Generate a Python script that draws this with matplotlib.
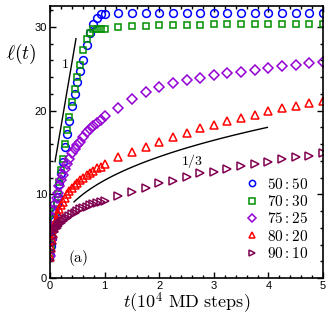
import matplotlib
matplotlib.use("Agg")
import matplotlib.pyplot as plt
import numpy as np

plt.rcParams['mathtext.fontset'] = 'cm'
plt.rcParams['font.family'] = ['Liberation Sans', 'DejaVu Sans']

# ---- data ----
t_early = [0.0, 0.02, 0.04, 0.06, 0.08, 0.10, 0.12, 0.14, 0.17, 0.20, 0.23, 0.27,
           0.31, 0.35, 0.40, 0.45, 0.50, 0.55, 0.61, 0.67, 0.73, 0.79, 0.86, 0.93, 1.0]
t_late = [1.25, 1.5, 1.75, 2.0, 2.25, 2.5, 2.75, 3.0, 3.25, 3.5, 3.75, 4.0,
          4.25, 4.5, 4.75, 5.0]

l_5050 = [2.8, 3.8, 4.8, 5.8, 6.8, 7.8, 8.8, 9.7, 11.2, 12.6, 13.9, 15.6,
          17.2, 18.7, 20.5, 22.0, 23.4, 24.7, 26.1, 27.8, 29.3, 30.4, 31.1, 31.5, 31.6,
          31.7, 31.7, 31.7, 31.7, 31.7, 31.7, 31.7, 31.7, 31.7, 31.7, 31.7, 31.7,
          31.7, 31.7, 31.7, 31.7]
l_7030 = [2.6, 3.7, 4.8, 5.9, 7.0, 8.0, 9.0, 10.0, 11.5, 12.9, 14.2, 16.0,
          17.7, 19.2, 21.0, 22.6, 24.0, 25.5, 27.2, 28.5, 29.3, 29.7, 29.8, 29.8, 29.8,
          30.0, 30.1, 30.1, 30.2, 30.2, 30.2, 30.2, 30.3, 30.3, 30.3, 30.3, 30.3,
          30.3, 30.3, 30.3, 30.4]
l_7525 = [2.6, 4.5, 6.0, 7.2, 8.1, 8.9, 9.6, 10.2, 11.0, 11.7, 12.3, 13.0,
          13.6, 14.2, 14.9, 15.4, 15.9, 16.3, 16.9, 17.4, 17.8, 18.2, 18.5, 18.9, 19.3,
          20.3, 21.4, 22.2, 22.8, 23.3, 23.7, 23.95, 24.2, 24.5, 24.65, 24.9, 25.05,
          25.3, 25.5, 25.65, 25.8]
l_8020 = [2.5, 3.6, 4.5, 5.3, 6.0, 6.6, 7.1, 7.6, 8.2, 8.7, 9.1, 9.6,
          10.0, 10.4, 10.8, 11.1, 11.4, 11.7, 12.0, 12.3, 12.6, 12.8, 13.1, 13.3, 13.6,
          14.5, 15.1, 15.7, 16.3, 16.9, 17.35, 17.9, 18.3, 18.75, 19.15, 19.5, 19.95,
          20.35, 20.6, 20.95, 21.1]
l_9010 = [2.2, 3.2, 4.1, 4.9, 5.5, 5.8, 6.0, 6.2, 6.4, 6.6, 6.8, 7.0,
          7.2, 7.4, 7.6, 7.8, 8.0, 8.2, 8.4, 8.5, 8.7, 8.8, 8.95, 9.05, 9.15,
          9.8, 10.3, 10.7, 11.3, 11.6, 12.1, 12.5, 12.7, 13.0, 13.4, 13.65, 13.9,
          14.2, 14.4, 14.6, 14.9]

labels = ['$50:50$', '$70:30$', '$75:25$', '$80:20$', '$90:10$']
markers = ['o', 's', 'D', '^', '>']
colors = ['#0000ff', '#009000', '#9400d3', '#ff0000', '#800050']
msizes = [5.6, 5.0, 4.6, 5.4, 5.4]

# guide lines (slope 1 in linear growth, t^{1/3})
g1_t = [0.092, 0.476]
g1_l = [13.9, 28.6]
g3_t0, g3_t1 = 0.44, 3.98
g3_a, g3_b = 0.88, 10.8

# ---- figure ----
fig = plt.figure(figsize=(3.32, 3.18), dpi=100)
ax = fig.add_axes([0.1506, 0.1258, 0.8224, 0.8553])

t_all = t_early + t_late
series = [l_5050, l_7030, l_7525, l_8020, l_9010]
for y, lab, m, c, ms in zip(series, labels, markers, colors, msizes):
    ax.plot(t_all, y, linestyle='none', marker=m, markersize=ms,
            markerfacecolor='none', markeredgecolor=c, markeredgewidth=1.1,
            label=lab)

ax.plot(g1_t, g1_l, color='black', lw=1.0)
tt = np.linspace(g3_t0, g3_t1, 100)
ax.plot(tt, g3_a + g3_b * tt ** (1 / 3), color='black', lw=1.0)

ax.text(0.276, 25.6, r'$1$', fontsize=10, ha='center', va='center')
ax.text(2.6, 14.0, r'$1/3$', fontsize=10, ha='center', va='center')
ax.text(0.52, 2.4, r'$\mathrm{(a)}$', fontsize=11, ha='center', va='center')

ax.set_xlim(0, 5)
ax.set_ylim(0, 32.5)
ax.set_xticks([0, 1, 2, 3, 4, 5])
ax.set_yticks([0, 10, 20, 30])
ax.set_xticks(np.arange(0, 5.01, 0.2), minor=True)
ax.set_yticks(np.arange(0, 32.5, 2), minor=True)
ax.tick_params(which='both', direction='in', top=True, right=True,
               labelsize=8, width=1.0)
ax.tick_params(which='major', length=4.5, pad=2)
ax.tick_params(which='minor', length=2.5)
for s in ax.spines.values():
    s.set_linewidth(1.2)

ax.set_xlabel(r'$t(10^4\ \mathrm{MD\ steps})$', fontsize=13, labelpad=0)
ax.set_ylabel(r'$\ell(t)$', fontsize=14, rotation=0)
ax.yaxis.set_label_coords(-0.105, 0.78)

leg = ax.legend(loc='lower right', bbox_to_anchor=(0.97, 0.04), frameon=False,
                fontsize=11, markerscale=0.8, handlelength=1.0,
                handletextpad=0.5, labelspacing=0.15, borderaxespad=0)

fig.savefig('out.png', dpi=100)
